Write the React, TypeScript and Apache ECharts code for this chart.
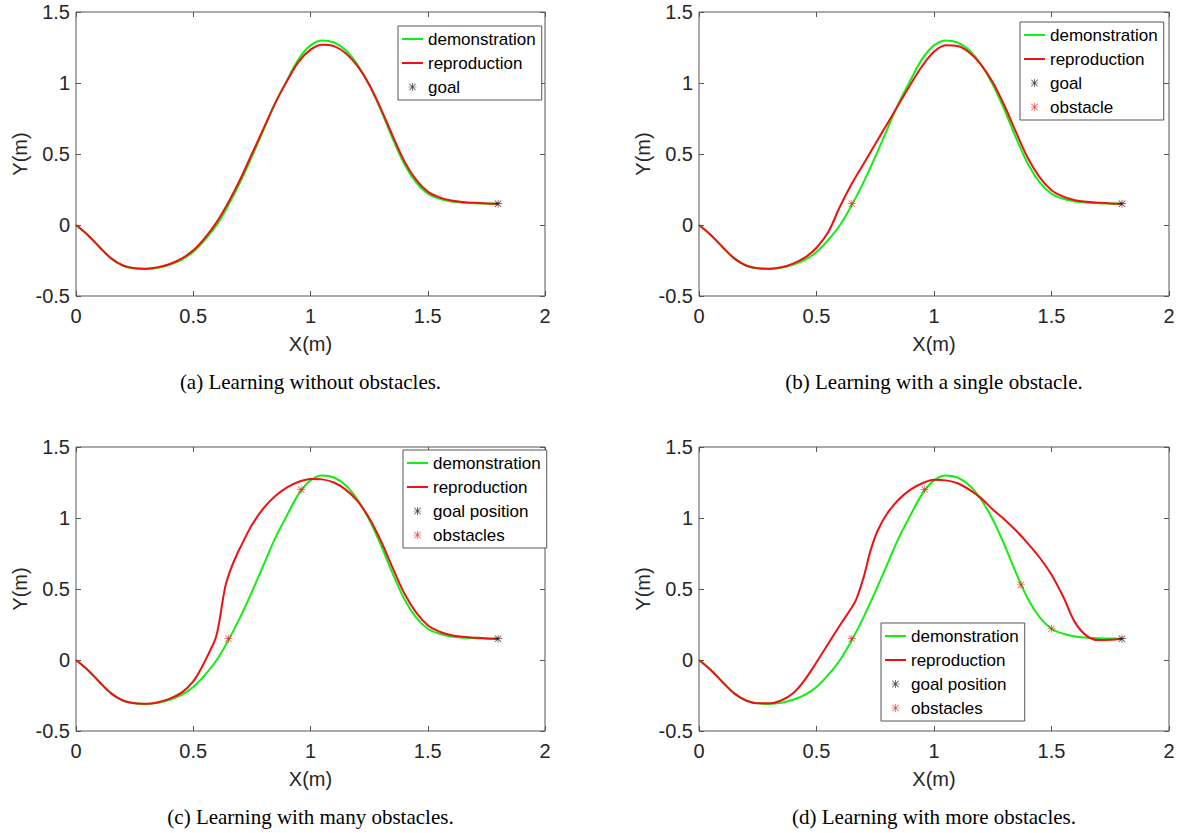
import React, { useEffect, useRef } from "react";
import * as echarts from "echarts";

// ---- data ----
const demoX = [0, 0.05, 0.1, 0.15, 0.2, 0.25, 0.3, 0.35, 0.4, 0.45, 0.5, 0.55, 0.6, 0.65, 0.7, 0.75, 0.8, 0.85, 0.9, 0.95, 1.0, 1.05, 1.1, 1.15, 1.2, 1.25, 1.3, 1.35, 1.4, 1.45, 1.5, 1.55, 1.6, 1.65, 1.7, 1.75, 1.8];
const demoY = [0, -0.07, -0.155, -0.235, -0.285, -0.305, -0.31, -0.302, -0.28, -0.245, -0.19, -0.105, 0.0, 0.14, 0.3, 0.48, 0.67, 0.86, 1.02, 1.17, 1.265, 1.3, 1.285, 1.23, 1.13, 0.99, 0.81, 0.61, 0.43, 0.3, 0.22, 0.185, 0.165, 0.157, 0.153, 0.151, 0.15];

const reproAX = demoX;
const reproAY = [0, -0.07, -0.155, -0.235, -0.285, -0.305, -0.308, -0.298, -0.275, -0.237, -0.178, -0.09, 0.02, 0.16, 0.32, 0.5, 0.68, 0.86, 1.015, 1.15, 1.235, 1.27, 1.26, 1.21, 1.12, 0.99, 0.82, 0.63, 0.45, 0.32, 0.235, 0.195, 0.172, 0.162, 0.156, 0.152, 0.15];

const reproBX = demoX;
const reproBY = [0, -0.07, -0.155, -0.235, -0.285, -0.305, -0.308, -0.298, -0.272, -0.23, -0.16, -0.05, 0.13, 0.29, 0.43, 0.57, 0.71, 0.85, 0.99, 1.12, 1.22, 1.265, 1.26, 1.215, 1.13, 1.005, 0.84, 0.65, 0.47, 0.335, 0.245, 0.2, 0.175, 0.163, 0.157, 0.152, 0.15];

const reproCX = [0, 0.05, 0.1, 0.15, 0.2, 0.25, 0.3, 0.35, 0.4, 0.45, 0.5, 0.54, 0.57, 0.59, 0.6, 0.61, 0.62, 0.63, 0.64, 0.66, 0.68, 0.7, 0.75, 0.8, 0.85, 0.9, 0.95, 1.0, 1.05, 1.1, 1.15, 1.2, 1.25, 1.3, 1.35, 1.4, 1.45, 1.5, 1.55, 1.6, 1.65, 1.7, 1.75, 1.8];
const reproCY = [0, -0.07, -0.155, -0.235, -0.285, -0.305, -0.308, -0.297, -0.272, -0.23, -0.15, -0.04, 0.06, 0.13, 0.18, 0.26, 0.36, 0.46, 0.54, 0.64, 0.72, 0.79, 0.95, 1.07, 1.155, 1.215, 1.255, 1.275, 1.272, 1.25, 1.2, 1.12, 1.0, 0.84, 0.65, 0.47, 0.335, 0.245, 0.2, 0.175, 0.163, 0.157, 0.152, 0.15];

const reproDX = [0, 0.05, 0.1, 0.15, 0.2, 0.25, 0.3, 0.35, 0.4, 0.45, 0.5, 0.55, 0.6, 0.65, 0.67, 0.7, 0.73, 0.76, 0.8, 0.85, 0.9, 0.95, 1.0, 1.05, 1.1, 1.15, 1.2, 1.25, 1.3, 1.35, 1.4, 1.45, 1.5, 1.55, 1.6, 1.65, 1.7, 1.75, 1.8];
const reproDY = [0, -0.07, -0.155, -0.235, -0.285, -0.305, -0.305, -0.285, -0.235, -0.14, -0.016, 0.115, 0.245, 0.37, 0.43, 0.58, 0.77, 0.91, 1.03, 1.13, 1.2, 1.245, 1.27, 1.265, 1.245, 1.2, 1.14, 1.06, 0.99, 0.91, 0.82, 0.72, 0.6, 0.445, 0.265, 0.17, 0.14, 0.142, 0.15];

const goal = [[1.8, 0.15]];
const obstaclesB = [[0.65, 0.15]];
const obstaclesC = [[0.65, 0.15], [0.96, 1.2]];
const obstaclesD = [[0.65, 0.15], [0.96, 1.2], [1.37, 0.53], [1.5, 0.22]];

const captions = [
  "(a) Learning without obstacles.",
  "(b) Learning with a single obstacle.",
  "(c) Learning with many obstacles.",
  "(d) Learning with more obstacles.",
];
const goalNames = ["goal", "goal", "goal position", "goal position"];
const obstacleNames = ["", "obstacle", "obstacles", "obstacles"];

// ---- styles ----
const GREEN = "#12ee12";
const RED = "#ee1111";
const AXIS = "#555555";
const TEXT = "#262626";
const SANS = "'Liberation Sans', Arial, Helvetica, sans-serif";
const SERIF = "'Liberation Serif', 'Times New Roman', serif";
const STAR =
  "path://M0,4.55 L10,4.55 L10,5.45 L0,5.45 Z M4.55,0 L5.45,0 L5.45,10 L4.55,10 Z M1.32,0.68 L9.32,8.68 L8.68,9.32 L0.68,1.32 Z M8.68,0.68 L9.32,1.32 L1.32,9.32 L0.68,8.68 Z";
const LINE_ICON = "path://M0,0 L21,0 L21,2 L0,2 Z";

const grids = [
  { left: 76, top: 12, width: 469, height: 284 },
  { left: 699, top: 12, width: 470, height: 284 },
  { left: 76, top: 447, width: 469, height: 284 },
  { left: 699, top: 447, width: 470, height: 284 },
];
const legendPos = [
  { left: 398, top: 26 },
  { left: 1020, top: 22 },
  { left: 403, top: 450 },
  { left: 881, top: 623 },
];

const zip = (xs: number[], ys: number[]) => xs.map((x, i) => [x, ys[i]]);

function buildOption() {
  const reproX = [reproAX, reproBX, reproCX, reproDX];
  const reproY = [reproAY, reproBY, reproCY, reproDY];
  const obstacles = [null, obstaclesB, obstaclesC, obstaclesD];

  const xAxis: any[] = [];
  const yAxis: any[] = [];
  const series: any[] = [];
  const legend: any[] = [];
  const title: any[] = [];

  grids.forEach((g, i) => {
    const tick = { show: true, inside: true, length: 5, lineStyle: { color: AXIS, width: 1 } };
    const noLine = { show: false, onZero: false };
    xAxis.push({
      type: "value", gridIndex: i, position: "bottom", min: 0, max: 2, interval: 0.5,
      axisLine: noLine, axisTick: tick, splitLine: { show: false },
      axisLabel: { fontSize: 20, color: TEXT, fontFamily: SANS, margin: 10 },
      name: "X(m)", nameLocation: "middle", nameGap: 38,
      nameTextStyle: { fontSize: 20, color: TEXT, fontFamily: SANS },
    });
    xAxis.push({
      type: "value", gridIndex: i, position: "top", min: 0, max: 2, interval: 0.5,
      axisLine: noLine, axisTick: tick, splitLine: { show: false },
      axisLabel: { show: false },
    });
    yAxis.push({
      type: "value", gridIndex: i, position: "left", min: -0.5, max: 1.5, interval: 0.5,
      axisLine: noLine, axisTick: tick, splitLine: { show: false },
      axisLabel: { fontSize: 20, color: TEXT, fontFamily: SANS, margin: 6 },
      name: "Y(m)", nameLocation: "middle", nameGap: 46,
      nameTextStyle: { fontSize: 20, color: TEXT, fontFamily: SANS },
    });
    yAxis.push({
      type: "value", gridIndex: i, position: "right", min: -0.5, max: 1.5, interval: 0.5,
      axisLine: noLine, axisTick: tick, splitLine: { show: false },
      axisLabel: { show: false },
    });

    const xi = i * 2;
    series.push({
      type: "line", name: "demonstration", xAxisIndex: xi, yAxisIndex: xi,
      data: zip(demoX, demoY), symbol: "none", showSymbol: false, smooth: 0.35,
      lineStyle: { color: GREEN, width: 2 }, itemStyle: { color: GREEN }, z: 2,
    });
    series.push({
      type: "line", name: "reproduction", xAxisIndex: xi, yAxisIndex: xi,
      data: zip(reproX[i], reproY[i]), symbol: "none", showSymbol: false, smooth: 0.35,
      lineStyle: { color: RED, width: 2 }, itemStyle: { color: RED }, z: 3,
    });
    series.push({
      type: "scatter", name: goalNames[i], xAxisIndex: xi, yAxisIndex: xi,
      data: goal, symbol: STAR, symbolSize: 8, itemStyle: { color: "#111111" }, z: 4,
    });
    const names: any[] = [
      { name: "demonstration", icon: LINE_ICON },
      { name: "reproduction", icon: LINE_ICON },
      { name: goalNames[i], icon: STAR },
    ];
    const obs = obstacles[i];
    if (obs) {
      series.push({
        type: "scatter", name: obstacleNames[i], xAxisIndex: xi, yAxisIndex: xi,
        data: obs, symbol: STAR, symbolSize: 8, itemStyle: { color: "#f01818" }, z: 4,
      });
      names.push({ name: obstacleNames[i], icon: STAR });
    }
    legend.push({
      data: names, orient: "vertical", left: legendPos[i].left, top: legendPos[i].top,
      itemWidth: 21, itemHeight: 8, itemGap: 7, padding: [4.5, 6, 4.5, 4],
      borderColor: AXIS, borderWidth: 1, backgroundColor: "#ffffff",
      textStyle: { fontSize: 17, lineHeight: 17, color: "#000", fontFamily: SANS },
      selectedMode: false, z: 10,
    });
    title.push({
      text: captions[i], left: g.left + g.width / 2, textAlign: "center",
      top: g.top + g.height + 75, padding: 0,
      textStyle: { fontSize: 21, fontWeight: "normal", color: "#000", fontFamily: SERIF },
    });
  });

  return {
    animation: false,
    backgroundColor: "#ffffff",
    grid: grids.map((g) => ({ ...g, show: true, borderColor: AXIS, borderWidth: 1, backgroundColor: "transparent", containLabel: false })),
    xAxis, yAxis, series, legend, title,
  };
}

export default function App() {
  const ref = useRef<HTMLDivElement>(null);
  useEffect(() => {
    if (!ref.current) return;
    const chart = echarts.init(ref.current, undefined, { renderer: "svg" });
    chart.setOption(buildOption());
    return () => chart.dispose();
  }, []);
  return (
    <div
      ref={ref}
      style={{ position: "absolute", left: 0, top: 0, width: 1181, height: 833, background: "#fff" }}
    />
  );
}
